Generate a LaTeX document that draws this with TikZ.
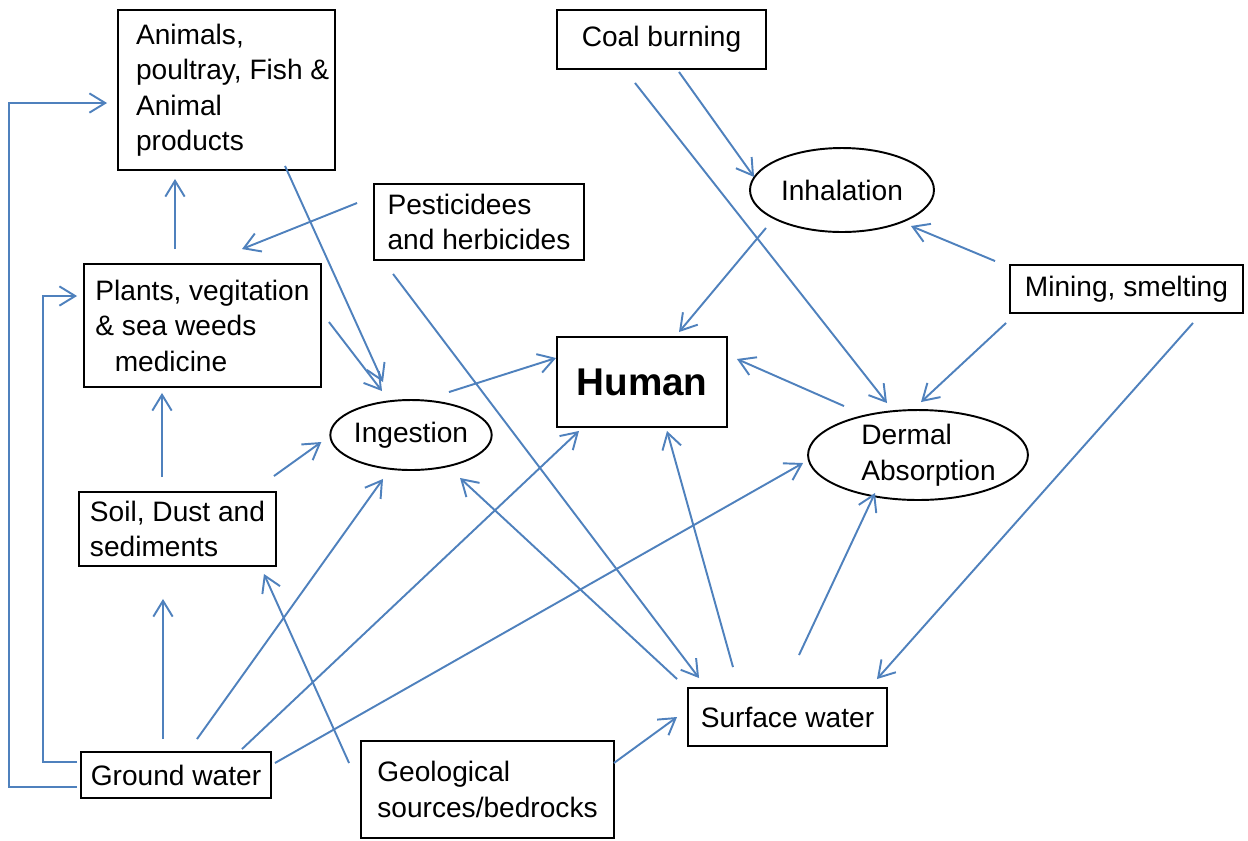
\documentclass[tikz,border=0pt]{standalone}
\usepackage{fontspec}
\setmainfont{Liberation Sans}
\usetikzlibrary{calc, arrows.meta, shapes.geometric}
\definecolor{flowblue}{RGB}{79,129,189}

\begin{document}
\begin{tikzpicture}[x=0.02cm, y=-0.02cm, >={Straight Barb[length=9pt, width=11pt]},
  every node/.style={font=\fontsize{16pt}{20.2pt}\selectfont},
  box/.style={draw, line width=1.1pt, rectangle, inner sep=0pt, align=left},
  oval/.style={draw, line width=1.1pt, ellipse, inner sep=0pt, align=left},
  flow/.style={->, draw=flowblue, line width=1.1pt}]
  \useasboundingbox (0,0) rectangle (1248,840);

  % Sources
  \node[box, minimum width=4.34cm, minimum height=3.2cm] (animals) at (226.5,90) {\hspace*{7pt}Animals,\\\hspace*{7pt}poultray, Fish \&\\\hspace*{7pt}Animal\\\hspace*{7pt}products};
  \node[box, minimum width=4.74cm, minimum height=2.46cm] (plants) at (202.5,325.5) {Plants, vegitation\\\& sea weeds\\\hspace*{11pt}medicine};
  \node[box, minimum width=3.94cm, minimum height=1.48cm] (soil) at (177.5,529) {Soil, Dust and\\sediments};
  \node[box, minimum width=3.8cm, minimum height=0.92cm] (ground) at (176,775) {Ground water};
  \node[box, minimum width=5.06cm, minimum height=1.94cm] (geo) at (487.5,789.5) {Geological\\sources/bedrocks};
  \node[box, minimum width=3.98cm, minimum height=1.16cm] (surf) at (787.5,717) {Surface water};
  \node[box, minimum width=4.2cm, minimum height=1.52cm] (pest) at (479,222) {Pesticidees\\and herbicides};
  \node[box, minimum width=4.18cm, minimum height=1.18cm] (coal) at (661.5,39.5) {Coal burning};
  \node[box, minimum width=4.66cm, minimum height=0.96cm] (mining) at (1126.5,289) {Mining, smelting};

  % Human and exposure routes
  \node[box, minimum width=3.4cm, minimum height=1.8cm, font=\fontsize{22pt}{26pt}\selectfont\bfseries] (human) at (642,382) {Human};
  \node[oval, minimum width=3cm, minimum height=1.4cm] (ingest) at (411,435) {Ingestion};
  \node[oval, minimum width=3.68cm, minimum height=1.68cm] (inhal) at (842,190) {Inhalation};
  \node[oval, minimum width=4.1cm, minimum height=1.8cm] (dermal) at (918,455) {\hspace*{12pt}Dermal\\\hspace*{12pt}Absorption};

  % Ground water feedback
  \draw[flow] ($(ground.west)+(-3,12)$) -- ++(-68,0) |- ($(animals.west)+(-10,13)$);
  \draw[flow] ($(ground.west)+(-3,-13)$) -- ++(-34,0) |- ($(plants.west)+(-6,-29.5)$);

  % Food chain
  \draw[flow] ($(plants.north)+(-27.5,-14)$) -- ($(animals.south)+(-51.5,8)$);
  \draw[flow] ($(soil.north)+(-15.5,-14)$) -- ($(plants.south)+(-40.5,5)$);
  \draw[flow] ($(ground.north)+(-13,-12)$) -- ($(soil.south)+(-14.5,32)$);
  \draw[flow] ($(pest.west)+(-16,-19)$) -- ($(plants.north)+(39.5,-14)$);

  % Into ingestion
  \draw[flow] ($(animals.south)+(58.5,-5)$) -- ($(ingest.north)+(-28,-17)$);
  \draw[flow] ($(plants.east)+(7,-3.5)$) -- ($(ingest.north)+(-29,-8)$);
  \draw[flow] ($(soil.north east)+(-3,-15)$) -- ($(ingest.west)+(-8,7)$);
  \draw[flow] ($(ground.north)+(21,-12)$) -- ($(ingest.south)+(-28,8)$);
  \draw[flow] ($(surf.north west)+(-10,-8)$) -- ($(ingest.south)+(49,7)$);

  % Into human
  \draw[flow] ($(ingest.north)+(38,-7)$) -- ($(human.west)+(0,-24)$);
  \draw[flow] ($(ground.north)+(66,-2)$) -- ($(human.south)+(-63,3)$);
  \draw[flow] ($(surf.north)+(-54.5,-20)$) -- ($(human.south)+(25,3)$);
  \draw[flow] ($(inhal.south)+(-76,-5)$) -- ($(human.north)+(37,-4)$);
  \draw[flow] ($(dermal.north)+(-74,-3)$) -- ($(human.east)+(9,-23)$);

  % Into dermal absorption
  \draw[flow] ($(ground.east)+(3,-12)$) -- ($(dermal.west)+(-4,8)$);
  \draw[flow] ($(surf.north)+(11.5,-32)$) -- ($(dermal.south)+(-43,-8)$);
  \draw[flow] ($(coal.south)+(-26.5,13)$) -- ($(dermal.north)+(-31,-6)$);
  \draw[flow] ($(mining.south west)+(-3,9)$) -- ($(dermal.north)+(3,-7)$);

  % Into inhalation
  \draw[flow] ($(coal.south)+(17.5,2)$) -- ($(inhal.west)+(5,-13)$);
  \draw[flow] ($(mining.north west)+(-14,-3)$) -- ($(inhal.east)+(-24,36)$);

  % Into surface water and soil
  \draw[flow] ($(geo.west)+(-11,-26.5)$) -- ($(soil.south east)+(-13,7)$);
  \draw[flow] ($(geo.east)+(-1,-26.5)$) -- ($(surf.west)+(-10,0)$);
  \draw[flow] ($(pest.south west)+(20,13)$) -- ($(surf.north west)+(12,-9)$);
  \draw[flow] ($(mining.south)+(66.5,9)$) -- ($(surf.north east)+(-11,-8)$);
\end{tikzpicture}
\end{document}
